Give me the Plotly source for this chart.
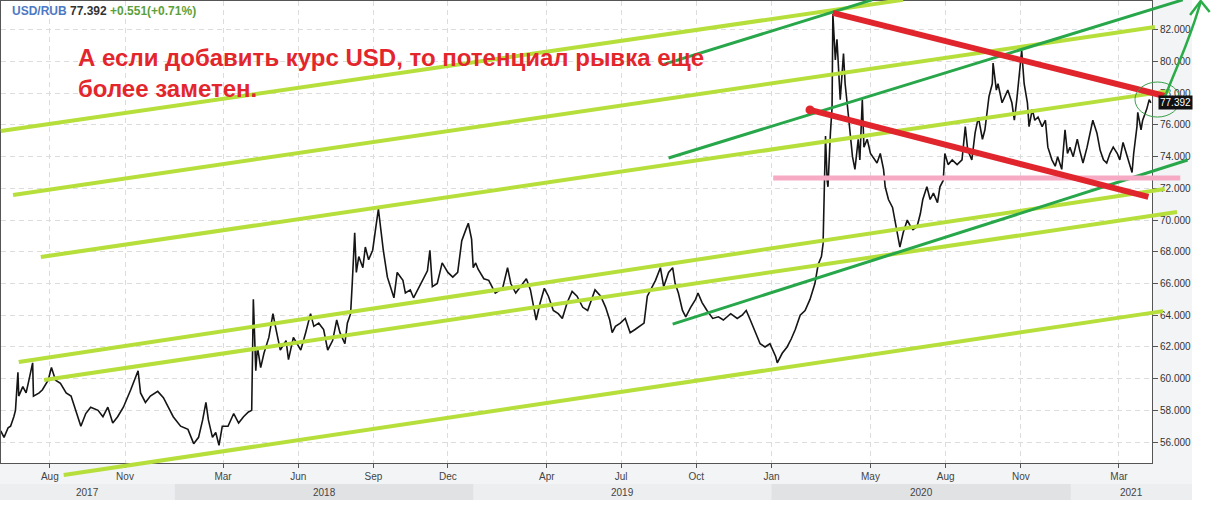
import pandas as pd
import plotly.graph_objects as go

# ---------------- DATA ----------------
BASE_DATE = "2017-08-01"   # day offsets below are counted from this date

price_day = [-60,-56,-51,-48,-44,-42,-39,-38,-33,-29,-26,-21,-20,-13,-9,-2,2,7,13,20,26,32,38,44,50,59,65,71,77,83,90,99,108,111,117,123,132,139,145,151,160,169,176,182,187,191,194,199,203,207,211,218,225,231,237,243,247,249,252,254,258,262,268,273,276,282,289,292,298,307,313,319,323,329,335,340,346,351,355,361,364,368,370,373,375,378,383,386,390,395,399,402,405,408,413,417,421,425,432,435,441,445,451,457,462,465,468,474,480,487,493,499,504,509,512,516,518,521,524,531,537,545,554,560,564,570,576,583,588,592,595,600,605,610,616,622,627,633,639,645,652,658,664,667,674,680,685,688,692,698,704,710,716,722,727,731,735,741,747,751,757,762,765,769,774,778,784,790,793,798,804,811,818,824,833,841,847,852,857,863,869,875,881,888,890,896,902,907,912,918,924,930,936,940,944,946,947,949,951,952,955,957,958,961,963,965,967,971,973,976,978,982,985,989,991,994,996,1000,1004,1007,1012,1016,1020,1022,1026,1031,1034,1037,1040,1044,1049,1053,1056,1061,1065,1068,1073,1077,1081,1086,1089,1093,1095,1099,1104,1110,1116,1120,1123,1128,1132,1136,1141,1144,1147,1149,1153,1154,1158,1160,1165,1169,1172,1177,1180,1183,1186,1189,1192,1196,1198,1202,1205,1209,1214,1218,1221,1226,1230,1233,1238,1242,1245,1248,1252,1257,1260,1264,1269,1273,1276,1281,1285,1289,1293,1297,1301,1306,1309,1313,1318,1322,1324,1326,1330,1331,1335,1337,1342,1345,1347]
price_val = [56.7,56.3,56.9,57.0,57.6,58.0,60.4,58.9,59.5,59.1,59.8,61.0,58.9,59.1,59.3,59.9,60.7,59.9,59.7,59.1,58.9,58.0,57.0,57.8,58.2,58.0,57.6,58.2,57.2,57.6,58.2,59.3,60.5,59.1,58.5,58.9,59.2,58.8,58.2,57.6,57.0,56.8,55.9,56.3,57.4,58.5,57.4,56.3,56.6,55.8,57.0,57.0,57.8,57.2,57.6,57.9,58.0,65.0,60.5,62.0,60.7,61.6,62.6,64.1,63.3,61.8,62.4,61.2,62.6,61.8,62.9,64.1,63.3,63.5,63.1,61.8,62.4,63.7,62.9,62.2,63.5,64.1,66.0,69.2,66.7,67.7,67.0,68.3,67.5,68.1,69.6,70.7,69.4,68.1,66.4,65.8,65.1,66.7,66.2,65.4,65.6,65.1,65.7,66.2,66.8,68.1,65.8,66.0,67.3,66.7,66.4,66.7,68.7,69.4,69.8,68.8,67.0,67.3,66.9,66.3,66.2,65.4,65.7,67.0,66.0,65.4,65.8,66.3,65.6,64.5,63.7,64.8,65.7,65.2,64.3,64.1,63.8,64.8,65.5,65.2,64.5,64.3,65.2,65.6,65.2,64.5,63.7,62.9,63.3,63.5,63.8,62.9,63.1,63.3,63.5,65.2,65.6,66.2,67.0,65.8,66.7,67.0,66.0,65.4,64.3,63.9,64.5,65.0,65.4,64.8,64.3,63.8,63.9,63.7,64.1,63.8,64.0,64.3,63.7,62.9,62.2,62.0,62.2,61.4,61.0,61.6,62.0,62.5,63.1,64.0,64.3,65.0,66.0,67.2,67.7,68.5,70.6,75.3,72.5,72.1,75.5,77.1,83.0,80.1,81.4,79.0,77.6,80.5,78.6,77.1,75.9,74.0,73.2,75.1,73.8,77.6,74.6,75.1,74.2,74.0,73.6,74.2,73.2,72.1,71.3,70.8,70.0,69.2,68.3,69.2,70.0,69.6,69.4,69.6,70.4,71.3,72.1,71.3,71.7,71.1,72.1,72.5,74.2,73.5,73.8,73.5,73.8,75.9,74.4,73.8,75.5,76.5,75.1,75.7,77.0,77.8,78.6,79.9,78.2,78.6,77.4,77.8,78.2,77.4,76.3,77.6,79.3,80.7,78.6,77.4,75.9,77.0,76.3,76.5,75.9,76.3,74.6,73.8,73.4,74.0,73.2,75.7,74.2,74.6,74.0,75.1,74.4,73.6,74.6,75.5,76.3,75.5,74.4,73.8,73.6,74.2,74.6,74.2,73.8,74.9,74.0,73.4,73.0,74.2,75.9,76.8,75.7,76.3,77.0,77.6,77.392]

last_price = "77.392"
change_text = "+0.551(+0.71%)"

tick_dates = ["2017-08-01","2017-11-01","2018-03-01","2018-06-01","2018-09-01","2018-12-01",
              "2019-04-01","2019-07-01","2019-10-01","2020-01-01","2020-05-01","2020-08-01",
              "2020-11-01","2021-03-01"]
tick_text = ["Aug","Nov","Mar","Jun","Sep","Dec","Apr","Jul","Oct","Jan","May","Aug","Nov","Mar"]

year_labels = ["2017","2018","2019","2020","2021"]
year_starts = ["2017-01-01","2018-01-01","2019-01-01","2020-01-01","2021-01-01","2022-01-01"]
dark_years = ["2018","2020"]

# drawn trend lines (day offsets / price levels of end points)
lime_d0 = [-60, -45, -11, -38, -7, 17]
lime_v0 = [75.62, 71.58, 67.67, 61.05, 59.91, 53.92]
lime_d1 = [1044, 1352, 1370, 1364, 1379, 1362]
lime_v1 = [83.89, 82.18, 78.15, 71.96, 70.51, 64.26]

green_d0 = [757, 749, 762]
green_v0 = [73.92, 79.79, 63.44]
green_d1 = [1386, 1006, 1392]
green_v1 = [83.89, 83.89, 73.79]

red_d0 = [958, 930]
red_v0 = [83.07, 76.95]
red_d1 = [1364, 1344]
red_v1 = [77.83, 71.46]

pink_d = [885, 1383]
pink_v = [72.66, 72.66]

circle_d = [1327.6, 1382.6]
circle_v = [76.50, 78.71]

arrow_d = [1361, 1374, 1389, 1401, 1408]
arrow_v = [77.39, 79.03, 80.92, 82.62, 83.76]
arrowhead_d = [1395, 1408, 1419]
arrowhead_v = [82.94, 83.82, 83.13]

note_text = "А если добавить курс USD, то потенциал рывка еще<br>более заметен."

# ---------------- LAYOUT GEOMETRY ----------------
W, H = 1232, 513
PX_L, PX_R, PX_T, PX_B = 1, 1152, 1, 463
PANEL_R = 1192
x_range = [pd.Timestamp("2017-06-02 07:00"), pd.Timestamp("2021-04-10 10:00")]
y_range = [54.68, 83.82]

base = pd.Timestamp(BASE_DATE)
def to_date(days):
    return [base + pd.Timedelta(days=float(d)) for d in days]

t0 = x_range[0].value / 1e6
t1 = x_range[1].value / 1e6
mpp = (t1 - t0) / (PX_R - PX_L)
x2_range = [pd.to_datetime(t0 - PX_L * mpp, unit="ms"), pd.to_datetime(t0 + (W - PX_L) * mpp, unit="ms")]
vpp = (y_range[1] - y_range[0]) / (PX_B - PX_T)
y2_range = [y_range[0] - (H - PX_B) * vpp, y_range[1] + PX_T * vpp]
panel_end = pd.to_datetime(t0 + (PANEL_R - PX_L) * mpp, unit="ms")

LIME = "#b6df3c"
GREEN = "#27a64a"
RED = "#e0252d"
PINK = "#f6aac4"

fig = go.Figure()

# price
fig.add_trace(go.Scatter(x=to_date(price_day), y=price_val, mode="lines",
                         line=dict(color="#151515", width=1.6), xaxis="x", yaxis="y",
                         hoverinfo="skip", showlegend=False))

def seg(d0, v0, d1, v1, color, width):
    for a, b, c, e in zip(d0, v0, d1, v1):
        fig.add_trace(go.Scatter(x=to_date([a, c]), y=[b, e], mode="lines",
                                 line=dict(color=color, width=width), xaxis="x2", yaxis="y2",
                                 hoverinfo="skip", showlegend=False))

seg(lime_d0, lime_v0, lime_d1, lime_v1, LIME, 4)
seg(green_d0, green_v0, green_d1, green_v1, GREEN, 3)
fig.add_trace(go.Scatter(x=to_date(pink_d), y=pink_v, mode="lines",
                         line=dict(color=PINK, width=5), xaxis="x2", yaxis="y2",
                         hoverinfo="skip", showlegend=False))
seg(red_d0, red_v0, red_d1, red_v1, RED, 6)
fig.add_trace(go.Scatter(x=to_date(red_d0[1:2]), y=red_v0[1:2], mode="markers",
                         marker=dict(color=RED, size=9), xaxis="x2", yaxis="y2",
                         hoverinfo="skip", showlegend=False))
# arrow
fig.add_trace(go.Scatter(x=to_date(arrow_d), y=arrow_v, mode="lines",
                         line=dict(color="#2aad48", width=2.5, shape="spline"),
                         xaxis="x2", yaxis="y2", hoverinfo="skip", showlegend=False))
fig.add_trace(go.Scatter(x=to_date(arrowhead_d), y=arrowhead_v, mode="lines",
                         line=dict(color="#2aad48", width=2.5),
                         xaxis="x2", yaxis="y2", hoverinfo="skip", showlegend=False))

shapes = []
# right label panel + month band
shapes.append(dict(type="rect", xref="paper", yref="paper", x0=PX_R / W, x1=PANEL_R / W,
                   y0=1 - 484 / H, y1=1, fillcolor="#f3f4f6", line_width=0, layer="below"))
shapes.append(dict(type="rect", xref="paper", yref="paper", x0=0, x1=PANEL_R / W,
                   y0=1 - 484 / H, y1=1 - PX_B / H, fillcolor="#f3f4f6", line_width=0, layer="below"))
shapes.append(dict(type="rect", xref="paper", yref="paper", x0=0, x1=PANEL_R / W,
                   y0=1 - 500 / H, y1=1 - 484 / H, fillcolor="#eceef0", line_width=0, layer="below"))
for i, yl in enumerate(year_labels):
    if yl in dark_years:
        shapes.append(dict(type="rect", xref="x2", yref="paper", x0=year_starts[i], x1=year_starts[i + 1],
                           y0=1 - 500 / H, y1=1 - 484 / H, fillcolor="#e1e2e4", line_width=0, layer="below"))
# circle
shapes.append(dict(type="circle", xref="x2", yref="y2",
                   x0=to_date(circle_d)[0], x1=to_date(circle_d)[1], y0=circle_v[0], y1=circle_v[1],
                   line=dict(color="#3a9f48", width=1)))

annotations = []
for i, yl in enumerate(year_labels):
    s = max(pd.Timestamp(year_starts[i]), x2_range[0])
    e = min(pd.Timestamp(year_starts[i + 1]), panel_end)
    annotations.append(dict(x=s + (e - s) / 2, y=1 - 492.5 / H, xref="x2", yref="paper", text=yl,
                            yanchor="middle", showarrow=False,
                            font=dict(family="Liberation Sans", size=10, color="#444")))
annotations.append(dict(x=10 / W, y=1 - 11 / H, xref="paper", yref="paper", xanchor="left", yanchor="middle",
                        showarrow=False,
                        text=("<b><span style='color:#4d79c4'>USD/RUB</span> "
                              f"<span style='color:#333'>{last_price}</span> "
                              f"<span style='color:#5c9f3c'>{change_text}</span></b>"),
                        font=dict(family="Liberation Sans", size=12)))
annotations.append(dict(x=76 / W, y=1 - 72.5 / H, xref="paper", yref="paper", xanchor="left", yanchor="middle",
                        align="left", showarrow=False, text=f"<b>{note_text}</b>",
                        font=dict(family="Liberation Sans", size=24, color="#e3262c")))
annotations.append(dict(x=1158 / W, y=float(last_price), xref="paper", yref="y", xanchor="left", yanchor="middle",
                        showarrow=False, text=last_price, bgcolor="#111", borderpad=1,
                        font=dict(family="Liberation Sans", size=10, color="white")))

fig.update_layout(
    width=W, height=H, margin=dict(l=0, r=0, t=0, b=0),
    paper_bgcolor="white", plot_bgcolor="rgba(0,0,0,0)",
    showlegend=False, shapes=shapes, annotations=annotations,
    xaxis=dict(type="date", domain=[PX_L / W, PX_R / W], range=x_range, anchor="y",
               tickvals=tick_dates, ticktext=tick_text, ticks="outside", ticklen=4, tickcolor="#555",
               showgrid=True, gridcolor="#dcdcdc", griddash="5px,4px", gridwidth=1,
               showline=True, linecolor="#555", linewidth=1, mirror=True, zeroline=False,
               tickfont=dict(family="Liberation Sans", size=10, color="#444"), automargin=False),
    yaxis=dict(domain=[1 - PX_B / H, 1 - PX_T / H], range=y_range, anchor="x", side="right",
               tick0=56, dtick=2, tickformat=".3f", ticks="outside", ticklen=5, tickcolor="#555",
               showgrid=True, gridcolor="#dcdcdc", griddash="5px,4px", gridwidth=1,
               showline=True, linecolor="#555", linewidth=1, mirror=True, zeroline=False,
               tickfont=dict(family="Liberation Sans", size=10, color="#333"), automargin=False),
    xaxis2=dict(type="date", domain=[0, 1], range=x2_range, anchor="y2", visible=False,
                showgrid=False, zeroline=False),
    yaxis2=dict(domain=[0, 1], range=y2_range, anchor="x2", visible=False,
                showgrid=False, zeroline=False),
)

fig.write_html("out.html", config={"displayModeBar": False},
               post_script="document.body.style.margin='0px';document.body.style.overflow='hidden';")
